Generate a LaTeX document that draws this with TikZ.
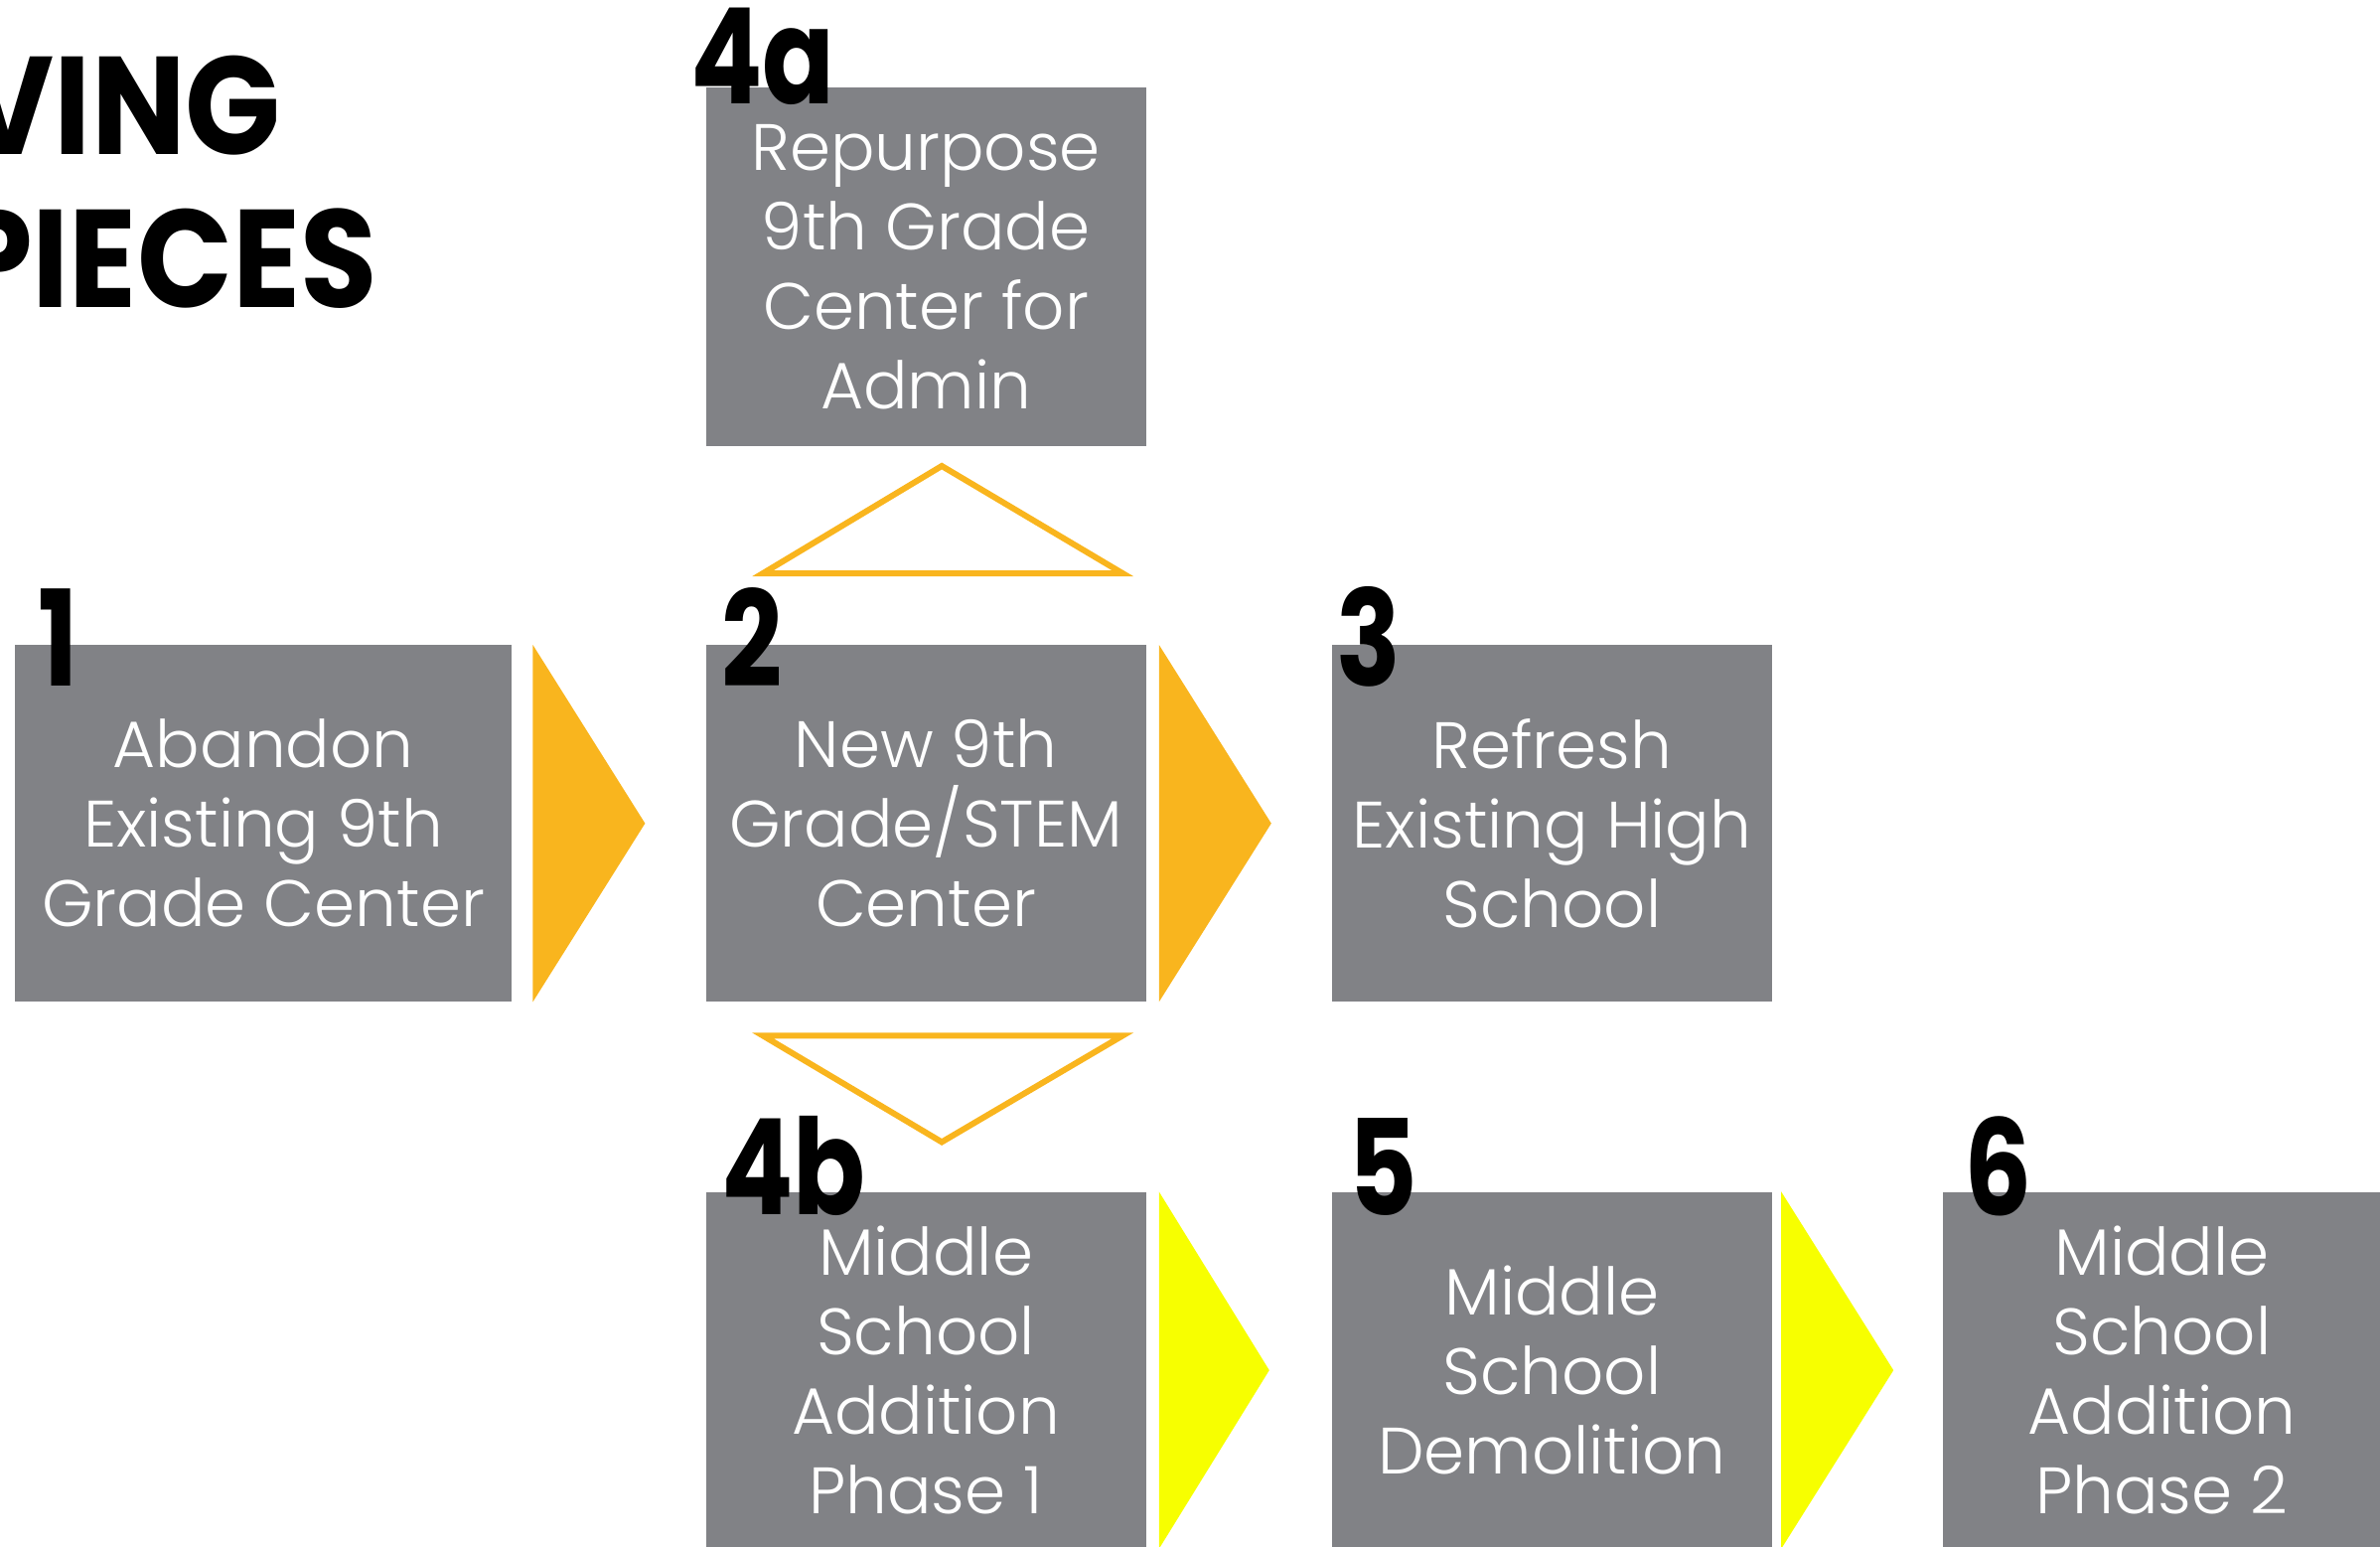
\documentclass[tikz,border=0pt]{standalone}
\usepackage{fontspec}
\setmainfont{Poppins Light}
\newfontfamily\numfont{Poppins}[FakeStretch=0.8]
\newfontfamily\headfont{Poppins}[FakeStretch=0.9]
\usetikzlibrary{positioning}
\definecolor{boxgray}{RGB}{129,130,134}
\definecolor{stepamber}{RGB}{249,181,30}
\definecolor{stepyellow}{RGB}{247,255,0}
\tikzset{
  phase/.style={fill=boxgray,text=white,align=center,inner sep=0pt,
    minimum width=443pt,minimum height=359pt,
    font=\fontsize{66}{80}\selectfont},
  phasenum/.style={anchor=base west,inner sep=0pt,
    font=\numfont\bfseries\fontsize{134}{134}\selectfont},
  heading/.style={anchor=base east,inner sep=0pt,
    font=\headfont\bfseries\fontsize{140}{140}\selectfont},
}
\begin{document}
\begin{tikzpicture}[x=1pt,y=-1pt]
		\useasboundingbox (0,0) rectangle (2396,1557);
		\clip (0,0) rectangle (2396,1557);
		% title
		\node[heading] (ving) at (283,156) {VING};
		\node[heading] (pieces) at (380,309) {PIECES};
		% boxes
		\node[phase,anchor=north west,minimum width=500pt] (abandon) at (15,649) {Abandon\\Existing 9th\\Grade Center};
		\node[phase,right=195pt of abandon] (newctr) {New 9th\\Grade/STEM\\Center};
		\node[phase,right=187pt of newctr] (refresh) {Refresh\\Existing High\\School};
		\node[phase,above=200pt of newctr,minimum height=361pt] (repurpose) {Repurpose\\9th Grade\\Center for\\Admin};
		\node[phase,below=191pt of newctr] (addone) {Middle\\School\\Addition\\Phase 1};
		\node[phase,right=187pt of addone] (demo) {Middle\\School\\Demolition};
		\node[phase,right=172pt of demo,minimum width=440pt] (addtwo) {Middle\\School\\Addition\\Phase 2};
		% numbers
		\node[phasenum] (n1) at (38,690) {1};
		\node[phasenum] (n2) at (726,691) {2};
		\node[phasenum] (n3) at (1345,690) {3};
		\node[phasenum] (n4a) at (695,105) {4a};
		\node[phasenum] (n4b) at (726,1222) {4b};
		\node[phasenum] (n5) at (1357,1223) {5};
		\node[phasenum] (n6) at (1977,1223) {6};
		% chevrons
		\fill[stepamber] ([xshift=21pt]abandon.north east) -- ([xshift=134pt]abandon.east) -- ([xshift=21pt]abandon.south east) -- cycle;
		\fill[stepamber] ([xshift=13pt]newctr.north east) -- ([xshift=126pt]newctr.east) -- ([xshift=13pt]newctr.south east) -- cycle;
		\fill[stepyellow] ([xshift=13pt]addone.north east) -- ([xshift=124pt]addone.east) -- ([xshift=13pt]addone.south east) -- cycle;
		\fill[stepyellow] ([xshift=9pt]demo.north east) -- ([xshift=122pt]demo.east) -- ([xshift=9pt]demo.south east) -- cycle;
		% branch triangles
		\draw[stepamber,line width=6pt] ([xshift=16pt,yshift=180pt]newctr.north) -- ([xshift=198pt,yshift=72pt]newctr.north) -- ([xshift=-164pt,yshift=72pt]newctr.north) -- cycle;
		\draw[stepamber,line width=6pt] ([xshift=-164pt,yshift=-34pt]newctr.south) -- ([xshift=198pt,yshift=-34pt]newctr.south) -- ([xshift=16pt,yshift=-141pt]newctr.south) -- cycle;
\end{tikzpicture}
\end{document}
